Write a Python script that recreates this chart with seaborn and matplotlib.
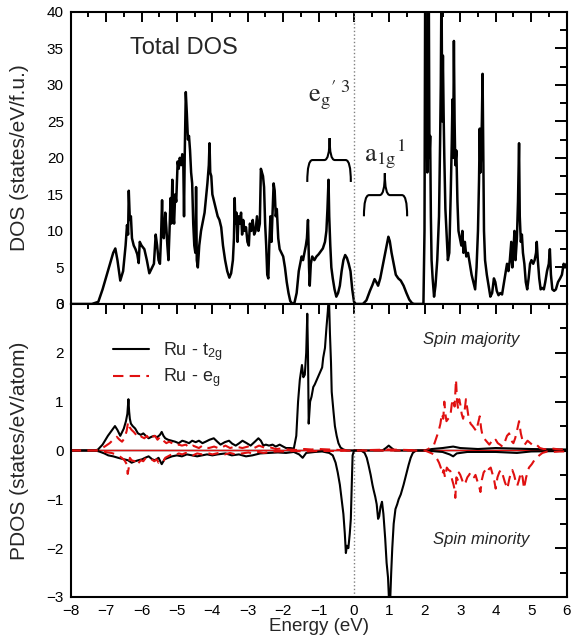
import numpy as np
import matplotlib
matplotlib.use('Agg')
import matplotlib.pyplot as plt
import seaborn as sns
from matplotlib.path import Path
from matplotlib.patches import PathPatch
from matplotlib.ticker import MultipleLocator

# ---- total DOS (top panel) ----
tot_e = [
    -8.00, -7.40, -7.22, -7.10, -6.95, -6.80, -6.74, -6.68, -6.60, -6.52,
    -6.45, -6.41, -6.38, -6.36, -6.33, -6.30, -6.27, -6.22, -6.17, -6.12,
    -6.08, -6.05, -6.00, -5.92, -5.85, -5.78, -5.72, -5.65, -5.60, -5.56,
    -5.52, -5.48, -5.45, -5.42, -5.40, -5.37, -5.33, -5.30, -5.27, -5.24,
    -5.21, -5.18, -5.16, -5.13, -5.11, -5.08, -5.05, -5.02, -4.98, -4.95,
    -4.92, -4.88, -4.85, -4.82, -4.80, -4.78, -4.75, -4.72, -4.69, -4.66,
    -4.63, -4.60, -4.57, -4.54, -4.51, -4.48, -4.46, -4.44, -4.41, -4.37,
    -4.32, -4.28, -4.22, -4.18, -4.14, -4.10, -4.08, -4.06, -4.03, -4.00,
    -3.95, -3.90, -3.85, -3.80, -3.75, -3.70, -3.64, -3.58, -3.52, -3.47,
    -3.42, -3.39, -3.37, -3.35, -3.32, -3.29, -3.26, -3.22, -3.19, -3.16,
    -3.13, -3.09, -3.05, -3.01, -2.97, -2.94, -2.90, -2.86, -2.82, -2.78,
    -2.74, -2.70, -2.66, -2.63, -2.60, -2.57, -2.54, -2.51, -2.48, -2.45,
    -2.42, -2.39, -2.36, -2.33, -2.30, -2.27, -2.24, -2.21, -2.18, -2.14,
    -2.10, -2.05, -2.00, -1.95, -1.90, -1.85, -1.80, -1.74, -1.68, -1.62,
    -1.56, -1.52, -1.48, -1.44, -1.40, -1.36, -1.33, -1.30, -1.27, -1.25,
    -1.22, -1.18, -1.12, -1.06, -1.00, -0.94, -0.88, -0.82, -0.78, -0.75,
    -0.72, -0.70, -0.67, -0.64, -0.60, -0.55, -0.50, -0.45, -0.40, -0.35,
    -0.30, -0.25, -0.20, -0.15, -0.10, -0.05, 0.00, 0.05, 0.25, 0.35,
    0.45, 0.52, 0.58, 0.63, 0.68, 0.74, 0.80, 0.86, 0.92, 0.97,
    1.01, 1.06, 1.12, 1.18, 1.25, 1.32, 1.40, 1.48, 1.56, 1.64,
    1.70, 1.96, 1.99, 2.00, 2.01, 2.03, 2.05, 2.07, 2.09, 2.11,
    2.13, 2.15, 2.17, 2.19, 2.22, 2.26, 2.30, 2.35, 2.40, 2.43,
    2.45, 2.47, 2.49, 2.51, 2.53, 2.55, 2.58, 2.61, 2.65, 2.69,
    2.73, 2.76, 2.78, 2.80, 2.82, 2.84, 2.86, 2.89, 2.92, 2.95,
    2.99, 3.03, 3.06, 3.09, 3.13, 3.17, 3.22, 3.27, 3.32, 3.38,
    3.42, 3.46, 3.50, 3.53, 3.55, 3.57, 3.59, 3.61, 3.63, 3.65,
    3.67, 3.70, 3.75, 3.80, 3.85, 3.90, 3.95, 3.99, 4.03, 4.08,
    4.13, 4.18, 4.22, 4.27, 4.32, 4.36, 4.40, 4.44, 4.47, 4.50,
    4.53, 4.56, 4.60, 4.63, 4.66, 4.68, 4.71, 4.74, 4.77, 4.81,
    4.85, 4.89, 4.93, 4.97, 5.01, 5.06, 5.10, 5.14, 5.16, 5.19,
    5.23, 5.27, 5.31, 5.36, 5.40, 5.45, 5.50, 5.53, 5.56, 5.60,
    5.65, 5.70, 5.76, 5.82, 5.87, 5.92, 5.96, 6.00,
]
tot_dos = [
    0.0, 0.0, 0.3, 2.0, 4.5, 7.0, 7.6, 6.0, 3.2, 4.5,
    8.0, 10.8, 9.5, 15.5, 11.5, 12.0, 9.0, 8.0, 7.5, 6.8,
    5.6, 8.5, 8.0, 7.5, 6.0, 4.2, 4.8, 5.5, 9.5, 8.0,
    6.0, 5.5, 9.0, 14.2, 9.5, 9.0, 12.5, 10.5, 8.0, 6.0,
    10.0, 14.5, 11.0, 17.0, 12.5, 11.0, 15.0, 14.0, 19.5, 18.5,
    20.0, 19.0, 20.5, 19.0, 12.0, 20.5, 29.0, 26.0, 22.5, 23.0,
    21.0, 18.0, 16.5, 11.0, 8.0, 7.0, 16.0, 6.0, 5.0, 8.0,
    10.0, 11.0, 12.5, 14.5, 16.5, 19.0, 22.0, 18.0, 17.5, 15.0,
    14.0, 13.0, 12.0, 11.5, 10.5, 8.0, 6.0, 4.5, 3.6, 4.2,
    6.0, 9.0, 14.5, 11.0, 12.5, 8.5, 12.0, 11.0, 12.5, 9.5,
    11.5, 10.0, 10.5, 8.5, 8.0, 11.0, 10.0, 11.5, 9.5, 10.0,
    12.0, 10.0, 11.0, 18.5, 18.0, 17.5, 16.0, 11.0, 8.0, 4.0,
    3.5, 8.5, 12.0, 8.5, 12.5, 16.5, 15.5, 12.0, 13.0, 9.0,
    7.5, 7.0, 6.5, 5.0, 3.0, 1.5, 0.4, 0.0, 0.2, 1.5,
    4.5, 5.5, 6.5, 6.0, 7.0, 8.0, 9.0, 11.5, 5.0, 2.5,
    5.5, 6.5, 6.0, 6.5, 6.8, 7.2, 7.6, 8.5, 10.0, 13.0,
    17.0, 12.0, 8.0, 5.0, 3.5, 2.0, 1.0, 1.5, 2.5, 4.5,
    6.0, 6.7, 6.3, 5.5, 4.5, 2.0, 0.3, 0.0, 0.0, 0.5,
    1.8, 2.6, 3.4, 3.0, 2.5, 3.5, 5.0, 6.5, 8.0, 9.2,
    8.6, 7.0, 5.5, 4.0, 3.5, 3.2, 2.5, 1.5, 0.6, 0.1,
    0.0, 0.0, 10.0, 25.0, 45.0, 22.0, 30.0, 18.0, 28.0, 45.0,
    20.0, 23.0, 12.0, 6.0, 3.5, 1.0, 2.5, 6.0, 12.0, 22.0,
    30.0, 45.0, 25.0, 34.0, 26.0, 20.0, 13.0, 10.0, 6.0, 7.0,
    15.0, 22.0, 28.0, 20.0, 36.0, 25.0, 19.0, 21.0, 14.0, 10.0,
    9.0, 8.0, 10.0, 7.0, 8.5, 6.5, 7.0, 5.5, 4.0, 2.8,
    2.0, 5.0, 10.0, 17.0, 24.0, 18.0, 21.0, 25.0, 31.5, 20.0,
    10.0, 6.0, 4.0, 2.5, 1.0, 1.5, 3.5, 3.0, 1.8, 1.2,
    1.5, 1.3, 2.5, 4.0, 5.5, 4.5, 6.0, 8.5, 5.0, 7.0,
    10.0, 6.0, 9.0, 14.0, 22.0, 12.0, 8.5, 9.5, 7.0, 5.5,
    3.0, 2.0, 3.5, 5.5, 6.0, 5.5, 6.0, 7.0, 8.5, 6.0,
    3.5, 2.0, 2.2, 2.0, 3.0, 4.5, 5.5, 7.5, 4.0, 2.0,
    1.8, 2.0, 3.0, 3.5, 4.0, 5.5, 5.0, 5.5,
]

# ---- Ru t2g, spin majority ----
t2g_up_e = [
    -8.00, -7.30, -7.23, -7.10, -6.95, -6.80, -6.75, -6.68, -6.60, -6.50,
    -6.44, -6.40, -6.37, -6.35, -6.33, -6.30, -6.25, -6.18, -6.10, -6.02,
    -5.95, -5.88, -5.80, -5.72, -5.64, -5.56, -5.48, -5.43, -5.38, -5.33,
    -5.25, -5.15, -5.05, -4.95, -4.85, -4.76, -4.66, -4.57, -4.47, -4.38,
    -4.28, -4.19, -4.08, -3.96, -3.86, -3.77, -3.65, -3.53, -3.44, -3.34,
    -3.24, -3.15, -3.03, -2.92, -2.80, -2.70, -2.63, -2.56, -2.49, -2.40,
    -2.30, -2.21, -2.10, -2.00, -1.92, -1.80, -1.70, -1.63, -1.58, -1.53,
    -1.47, -1.43, -1.39, -1.35, -1.32, -1.30, -1.28, -1.24, -1.20, -1.15,
    -1.11, -1.05, -0.96, -0.90, -0.87, -0.82, -0.78, -0.74, -0.71, -0.68,
    -0.65, -0.63, -0.58, -0.54, -0.49, -0.44, -0.38, -0.30, -0.20, 0.00,
    0.80, 0.90, 0.98, 1.06, 1.15, 2.00, 2.20, 2.50, 2.80, 3.00,
    3.50, 4.00, 4.50, 5.00, 6.00,
]
t2g_up = [
    0.0, 0.0, 0.02, 0.12, 0.30, 0.45, 0.50, 0.42, 0.30, 0.45,
    0.60, 0.75, 1.05, 0.80, 0.65, 0.55, 0.50, 0.45, 0.35, 0.32,
    0.35, 0.30, 0.25, 0.28, 0.30, 0.27, 0.32, 0.38, 0.30, 0.25,
    0.22, 0.20, 0.18, 0.15, 0.20, 0.18, 0.15, 0.20, 0.17, 0.20,
    0.15, 0.18, 0.22, 0.25, 0.18, 0.12, 0.17, 0.20, 0.14, 0.10,
    0.15, 0.20, 0.15, 0.10, 0.18, 0.25, 0.20, 0.10, 0.12, 0.10,
    0.12, 0.08, 0.12, 0.08, 0.05, 0.05, 0.04, 0.30, 1.00, 1.45,
    1.75, 1.50, 1.55, 2.00, 2.80, 2.00, 0.55, 1.00, 1.10, 1.30,
    1.35, 1.45, 1.60, 1.70, 1.90, 2.10, 2.50, 2.85, 3.20, 2.40,
    1.80, 1.20, 0.80, 0.50, 0.30, 0.15, 0.06, 0.02, 0.00, 0.00,
    0.00, 0.05, 0.10, 0.05, 0.00, 0.00, 0.03, 0.05, 0.08, 0.05,
    0.03, 0.05, 0.04, 0.03, 0.02,
]

# ---- Ru t2g, spin minority ----
t2g_dn_e = [
    -8.00, -7.30, -7.20, -7.05, -6.94, -6.80, -6.66, -6.50, -6.38, -6.28,
    -6.18, -6.09, -5.98, -5.90, -5.80, -5.70, -5.62, -5.52, -5.43, -5.35,
    -5.25, -5.14, -5.00, -4.86, -4.72, -4.57, -4.43, -4.29, -4.15, -4.00,
    -3.85, -3.63, -3.45, -3.25, -3.05, -2.87, -2.65, -2.40, -2.15, -1.92,
    -1.70, -1.55, -1.45, -1.35, -1.10, -0.90, -0.70, -0.60, -0.52, -0.46,
    -0.40, -0.35, -0.30, -0.26, -0.23, -0.20, -0.16, -0.12, -0.09, -0.06,
    -0.04, 0.00, 0.20, 0.30, 0.36, 0.41, 0.47, 0.52, 0.55, 0.60,
    0.64, 0.68, 0.71, 0.75, 0.79, 0.83, 0.88, 0.92, 0.96, 0.99,
    1.02, 1.05, 1.08, 1.12, 1.17, 1.22, 1.26, 1.32, 1.40, 1.47,
    1.54, 1.60, 1.66, 1.75, 2.00, 2.50, 2.70, 2.80, 2.90, 3.20,
    4.00, 4.60, 5.00, 6.00,
]
t2g_dn = [
    0.0, 0.0, -0.02, -0.06, -0.10, -0.12, -0.15, -0.18, -0.20, -0.25,
    -0.22, -0.20, -0.18, -0.15, -0.12, -0.18, -0.20, -0.15, -0.28, -0.18,
    -0.15, -0.12, -0.10, -0.12, -0.08, -0.10, -0.12, -0.10, -0.08, -0.10,
    -0.08, -0.06, -0.10, -0.08, -0.12, -0.10, -0.06, -0.05, -0.04, -0.05,
    -0.03, -0.08, -0.15, -0.05, -0.03, -0.02, -0.05, -0.10, -0.25, -0.45,
    -0.70, -1.00, -1.30, -1.70, -2.10, -1.95, -2.00, -1.70, -1.40, -0.60,
    -0.10, 0.00, 0.00, -0.05, -0.15, -0.30, -0.50, -0.70, -0.80, -0.95,
    -1.10, -1.40, -1.35, -1.15, -1.05, -1.30, -1.80, -2.30, -2.60, -3.10,
    -3.10, -2.50, -2.00, -1.50, -1.20, -1.10, -1.00, -0.90, -0.70, -0.50,
    -0.30, -0.15, -0.05, 0.00, 0.00, -0.03, -0.08, -0.12, -0.06, -0.03,
    -0.03, -0.05, -0.02, -0.01,
]

# ---- Ru eg, spin majority ----
eg_up_e = [
    -8.00, -7.30, -7.15, -7.00, -6.90, -6.80, -6.70, -6.62, -6.55, -6.48,
    -6.42, -6.38, -6.34, -6.28, -6.22, -6.15, -6.08, -6.00, -5.92, -5.85,
    -5.77, -5.70, -5.62, -5.55, -5.47, -5.38, -5.30, -5.22, -5.14, -5.05,
    -4.95, -4.86, -4.75, -4.65, -4.55, -4.48, -4.38, -4.28, -4.18, -4.10,
    -3.95, -3.80, -3.63, -3.50, -3.35, -3.15, -3.00, -2.85, -2.68, -2.50,
    -2.35, -2.21, -2.05, -1.85, -1.60, -1.40, -1.20, -1.00, -0.70, -0.40,
    0.00, 0.50, 1.00, 1.50, 2.00, 2.10, 2.18, 2.25, 2.32, 2.39,
    2.44, 2.48, 2.52, 2.55, 2.58, 2.61, 2.66, 2.72, 2.76, 2.80,
    2.84, 2.88, 2.91, 2.94, 2.97, 3.00, 3.04, 3.08, 3.12, 3.16,
    3.19, 3.23, 3.29, 3.35, 3.40, 3.45, 3.50, 3.55, 3.59, 3.63,
    3.67, 3.75, 3.82, 3.88, 3.94, 4.00, 4.06, 4.12, 4.19, 4.26,
    4.32, 4.38, 4.44, 4.50, 4.55, 4.60, 4.66, 4.71, 4.76, 4.82,
    4.90, 4.98, 5.06, 5.15, 5.25, 5.35, 5.46, 5.60, 5.80, 6.00,
]
eg_up = [
    0.0, 0.0, 0.03, 0.10, 0.15, 0.22, 0.28, 0.22, 0.18, 0.25,
    0.40, 0.58, 0.48, 0.42, 0.38, 0.32, 0.35, 0.28, 0.25, 0.30,
    0.22, 0.28, 0.30, 0.22, 0.28, 0.20, 0.15, 0.18, 0.15, 0.10,
    0.12, 0.10, 0.12, 0.06, 0.10, 0.08, 0.05, 0.10, 0.06, 0.05,
    0.08, 0.04, 0.10, 0.05, 0.08, 0.05, 0.08, 0.04, 0.10, 0.05,
    0.06, 0.03, 0.04, 0.02, 0.01, 0.03, 0.02, 0.03, 0.02, 0.01,
    0.00, 0.01, 0.02, 0.01, 0.00, 0.03, 0.08, 0.10, 0.25, 0.40,
    0.55, 0.75, 0.65, 1.00, 0.75, 0.60, 0.65, 0.70, 0.95, 1.05,
    0.90, 1.45, 1.00, 0.85, 1.05, 0.95, 0.75, 0.65, 0.80, 1.05,
    0.90, 0.70, 0.55, 0.50, 0.45, 0.40, 0.55, 0.70, 0.45, 0.30,
    0.25, 0.18, 0.12, 0.18, 0.15, 0.22, 0.15, 0.12, 0.08, 0.18,
    0.30, 0.35, 0.20, 0.15, 0.25, 0.40, 0.60, 0.35, 0.20, 0.12,
    0.20, 0.15, 0.10, 0.12, 0.05, 0.03, 0.02, 0.04, 0.02, 0.03,
]

# ---- Ru eg, spin minority ----
eg_dn_e = [
    -8.00, -7.30, -7.10, -6.95, -6.85, -6.72, -6.62, -6.56, -6.48, -6.42,
    -6.39, -6.36, -6.33, -6.28, -6.20, -6.14, -6.09, -6.02, -5.95, -5.88,
    -5.80, -5.72, -5.64, -5.57, -5.52, -5.45, -5.38, -5.33, -5.25, -5.15,
    -5.05, -4.95, -4.85, -4.75, -4.67, -4.55, -4.43, -4.29, -4.15, -4.00,
    -3.82, -3.65, -3.50, -3.34, -3.15, -2.98, -2.87, -2.70, -2.55, -2.40,
    -2.20, -2.00, -1.70, -1.40, -1.00, -0.50, 0.00, 1.00, 2.00, 2.10,
    2.20, 2.28, 2.35, 2.40, 2.45, 2.50, 2.53, 2.57, 2.62, 2.67,
    2.72, 2.77, 2.81, 2.84, 2.86, 2.89, 2.93, 2.96, 3.00, 3.05,
    3.10, 3.15, 3.20, 3.25, 3.29, 3.34, 3.39, 3.43, 3.48, 3.52,
    3.57, 3.61, 3.66, 3.71, 3.76, 3.81, 3.86, 3.91, 3.96, 4.00,
    4.05, 4.10, 4.14, 4.20, 4.26, 4.30, 4.33, 4.38, 4.43, 4.47,
    4.52, 4.56, 4.61, 4.66, 4.71, 4.76, 4.80, 4.86, 4.94, 5.02,
    5.09, 5.16, 5.23, 5.32, 5.46, 5.60, 5.80, 6.00,
]
eg_dn = [
    0.0, 0.0, -0.02, -0.04, -0.05, -0.08, -0.12, -0.15, -0.20, -0.28,
    -0.48, -0.35, -0.15, -0.20, -0.22, -0.18, -0.26, -0.20, -0.22, -0.15,
    -0.15, -0.18, -0.22, -0.18, -0.25, -0.20, -0.22, -0.15, -0.12, -0.08,
    -0.10, -0.06, -0.08, -0.05, -0.06, -0.10, -0.06, -0.08, -0.05, -0.08,
    -0.05, -0.08, -0.05, -0.08, -0.06, -0.04, -0.06, -0.03, -0.05, -0.03,
    -0.02, -0.02, -0.01, -0.02, -0.01, -0.01, 0.00, 0.00, 0.00, -0.03,
    -0.06, -0.10, -0.18, -0.25, -0.35, -0.48, -0.40, -0.55, -0.35, -0.40,
    -0.42, -0.60, -0.70, -0.80, -0.97, -0.55, -0.60, -0.45, -0.50, -0.60,
    -0.70, -0.65, -0.55, -0.50, -0.45, -0.52, -0.55, -0.50, -0.62, -0.70,
    -0.85, -0.60, -0.45, -0.40, -0.45, -0.38, -0.35, -0.48, -0.62, -0.78,
    -0.55, -0.45, -0.40, -0.50, -0.65, -0.72, -0.78, -0.60, -0.45, -0.40,
    -0.50, -0.62, -0.72, -0.60, -0.45, -0.55, -0.78, -0.55, -0.35, -0.28,
    -0.20, -0.15, -0.10, -0.05, -0.02, -0.03, -0.02, -0.02,
]

sns.set_style('white')
plt.rcParams['font.family'] = ['Liberation Sans', 'DejaVu Sans']
plt.rcParams['mathtext.fontset'] = 'stix'

red = '#e01010'
fig = plt.figure(figsize=(5.72, 6.37), dpi=100)
fig.patch.set_facecolor('white')
ax1 = fig.add_axes([0.1236, 0.5228, 0.8668, 0.4588])
ax2 = fig.add_axes([0.1236, 0.0628, 0.8668, 0.4600])


def brace(ax, x0, x1, xc, y0, ym, yt):
    r = (x1 - x0) * 0.12
    verts = [(x0, y0), (x0, ym), (x0 + r, ym), (xc - r, ym), (xc, ym), (xc, yt),
             (x1, y0), (x1, ym), (x1 - r, ym), (xc + r, ym), (xc, ym), (xc, yt)]
    codes = [Path.MOVETO, Path.CURVE3, Path.CURVE3, Path.LINETO, Path.CURVE3, Path.CURVE3] * 2
    ax.add_patch(PathPatch(Path(verts, codes), fill=False, lw=1.5, color='black'))


# top: total DOS
sns.lineplot(x=tot_e, y=tot_dos, ax=ax1, color='black', lw=1.8, estimator=None, sort=False)
ax1.axvline(0, color='gray', ls=':', lw=1)
ax1.set_xlim(-8, 6)
ax1.set_ylim(0, 40)
ax1.yaxis.set_major_locator(MultipleLocator(5))
ax1.yaxis.set_minor_locator(MultipleLocator(2.5))
ax1.set_ylabel('DOS (states/eV/f.u.)', fontsize=15)
ax1.yaxis.set_label_coords(-0.085, 0.5)
ax1.tick_params(labelbottom=False)
ax1.text(-4.81, 35, 'Total DOS', fontsize=17, ha='center', va='center')
ax1.text(-0.71, 28.5, r"$\mathrm{e}_{\mathrm{g}}{}^{\prime\;3}$", fontsize=19,
         ha='center', va='center')
ax1.text(0.87, 20.5, r"$\mathrm{a}_{\mathrm{1g}}{}^{1}$", fontsize=19,
         ha='center', va='center')
brace(ax1, -1.32, -0.09, -0.69, 16.7, 19.7, 22.7)
brace(ax1, 0.28, 1.50, 0.87, 12.0, 14.9, 17.9)

# bottom: PDOS
ax2.axhline(0, color='black', lw=1, zorder=1)
ax2.axhline(0, color=red, lw=1, zorder=1)
ax2.axvline(0, color='gray', ls=':', lw=1)
sns.lineplot(x=t2g_up_e, y=t2g_up, ax=ax2, color='black', lw=1.5, estimator=None,
             sort=False, label=r'Ru - t$_{\mathregular{2g}}$')
sns.lineplot(x=eg_up_e, y=eg_up, ax=ax2, color=red, lw=1.5, linestyle=(0, (5, 3)),
             estimator=None, sort=False, label=r'Ru - e$_{\mathregular{g}}$')
sns.lineplot(x=t2g_dn_e, y=t2g_dn, ax=ax2, color='black', lw=1.5, estimator=None, sort=False)
sns.lineplot(x=eg_dn_e, y=eg_dn, ax=ax2, color=red, lw=1.5, linestyle=(0, (5, 3)),
             estimator=None, sort=False)
ax2.set_xlim(-8, 6)
ax2.set_ylim(-3, 3)
ax2.yaxis.set_major_locator(MultipleLocator(1))
ax2.yaxis.set_minor_locator(MultipleLocator(0.5))
ax2.set_ylabel('PDOS (states/eV/atom)', fontsize=15)
ax2.yaxis.set_label_coords(-0.085, 0.5)
ax2.set_xlabel('Energy (eV)', fontsize=13.5)
ax2.xaxis.set_label_coords(0.5, -0.07)
ax2.legend(loc='upper left', bbox_to_anchor=(0.07, 0.9), frameon=False, fontsize=13,
           borderaxespad=0, handlelength=2.0, handletextpad=0.8, labelspacing=0.2)
ax2.text(3.3, 2.28, 'Spin majority', fontstyle='italic', fontsize=12, ha='center', va='center')
ax2.text(3.6, -1.83, 'Spin minority', fontstyle='italic', fontsize=12, ha='center', va='center')

for ax in (ax1, ax2):
    ax.xaxis.set_major_locator(MultipleLocator(1))
    ax.xaxis.set_minor_locator(MultipleLocator(0.5))
    ax.tick_params(axis='both', which='both', direction='in', top=True, right=True,
                   width=1.4, colors='black', labelsize=11)
    ax.tick_params(axis='x', which='major', length=7, pad=5)
    ax.tick_params(axis='x', which='minor', length=3.5)
    ax.tick_params(axis='y', which='major', length=9, pad=5)
    ax.tick_params(axis='y', which='minor', length=5)
    for s in ax.spines.values():
        s.set_visible(True)
        s.set_color('black')
        s.set_linewidth(1.5)

fig.savefig('out.png', dpi=100, facecolor='white')
